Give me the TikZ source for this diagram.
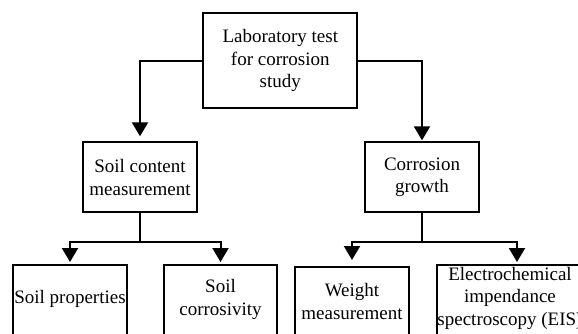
\documentclass[tikz,border=0pt]{standalone}
\usepackage{fontspec}
\setmainfont{Liberation Serif}
\usetikzlibrary{arrows.meta}
\begin{document}
\begin{tikzpicture}[x=1pt,y=-1pt,
  box/.style={draw=black,line width=2pt,rectangle,inner sep=0pt,align=center,
    font=\fontsize{19}{22.5}\selectfont},
  txt/.style={inner sep=0pt,align=center,font=\fontsize{19}{22.5}\selectfont},
  conn/.style={line width=2pt},
  arr/.style={conn,-{Triangle[length=14pt,width=16pt]}}]
\path[use as bounding box] (0,0) rectangle (578,333);
\clip (0,0) rectangle (578,333);
\fill[white] (0,0) rectangle (578,333);
% level 0
\node[box,minimum width=154pt,minimum height=95pt] (top) at (280.3,60.7)
  {Laboratory test\\for corrosion\\study};
% level 1
\node[box,minimum width=114pt,minimum height=70pt] (sc) at (140,177.3)
  {Soil content\\measurement};
\node[box,minimum width=114pt,minimum height=70pt] (cg) at (422,177.3)
  {Corrosion\\growth};
% level 2 boxes (extend below the picture)
\node[box,minimum width=114pt,minimum height=100pt,anchor=north] (sp) at (70,264) {};
\node[box,minimum width=113pt,minimum height=100pt,anchor=north] (scor) at (220.5,264) {};
\node[box,minimum width=114pt,minimum height=100pt,anchor=north] (wm) at (352,266) {};
\node[box,minimum width=160pt,minimum height=100pt,anchor=north] (eis) at (517,264) {};
% level 2 texts
\node[txt] (tsp) at (70,298.5) {Soil properties};
\node[txt] (tscor) at (220.5,299.5) {Soil\\corrosivity};
\node[txt] (twm) at (352,301.5) {Weight\\measurement};
\node[txt] (teis) at (510,298) {Electrochemical\\impendance\\spectroscopy (EIS)};
% connectors
\draw[arr] (top.west) -| ([yshift=5pt]sc.north);
\draw[arr] (top.east) -| ([yshift=1pt]cg.north);
\coordinate (scj) at (140,242);
\coordinate (cgj) at (422,242);
\draw[conn] (sc.south) -- (scj);
\draw[arr] (scj) -| ([yshift=2pt]sp.north);
\draw[arr] (scj) -| ([yshift=2pt]scor.north);
\draw[conn] (cg.south) -- (cgj);
\draw[arr] (cgj) -| ([yshift=6pt]wm.north);
\draw[arr] (cgj) -| ([yshift=2pt]eis.north);
\end{tikzpicture}
\end{document}
